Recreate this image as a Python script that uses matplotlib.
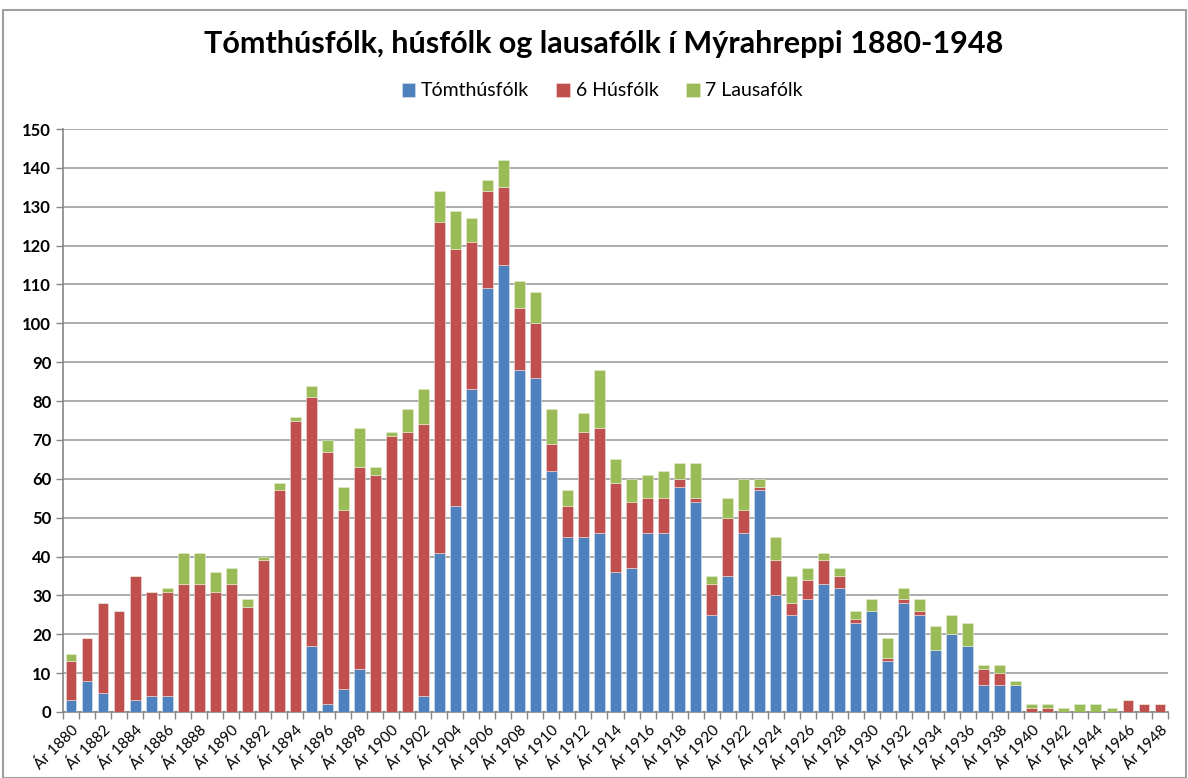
import matplotlib
matplotlib.use("Agg")
import matplotlib.pyplot as plt
from matplotlib.patches import Rectangle

years = list(range(1880, 1949))
tomthus = [3, 8, 5, 0, 3, 4, 4, 0, 0, 0, 0, 0, 0, 0, 0, 17, 2, 6, 11, 0,
           0, 0, 4, 41, 53, 83, 109, 115, 88, 86, 62, 45, 45, 46, 36, 37, 46, 46, 58, 54,
           25, 35, 46, 57, 30, 25, 29, 33, 32, 23, 26, 13, 28, 25, 16, 20, 17, 7, 7, 7,
           0, 0, 0, 0, 0, 0, 0, 0, 0]
husfolk = [10, 11, 23, 26, 32, 27, 27, 33, 33, 31, 33, 27, 39, 57, 75, 64, 65, 46, 52, 61,
           71, 72, 70, 85, 66, 38, 25, 20, 16, 14, 7, 8, 27, 27, 23, 17, 9, 9, 2, 1,
           8, 15, 6, 1, 9, 3, 5, 6, 3, 1, 0, 1, 1, 1, 0, 0, 0, 4, 3, 0,
           1, 1, 0, 0, 0, 0, 3, 2, 2]
lausafolk = [2, 0, 0, 0, 0, 0, 1, 8, 8, 5, 4, 2, 1, 2, 1, 3, 3, 6, 10, 2,
             1, 6, 9, 8, 10, 6, 3, 7, 7, 8, 9, 4, 5, 15, 6, 6, 6, 7, 4, 9,
             2, 5, 8, 2, 6, 7, 3, 2, 2, 2, 3, 5, 3, 3, 6, 5, 6, 1, 2, 1,
             1, 1, 1, 2, 2, 1, 0, 0, 0]
labels = ["Ár %d" % y for y in years]
series_names = ["Tómthúsfólk", "6 Húsfólk", "7 Lausafólk"]
colors = ["#4F81BD", "#C0504D", "#9BBB59"]

plt.rcParams['font.family'] = ['Lato', 'DejaVu Sans']

fig = plt.figure(figsize=(11.88, 7.78), dpi=100)
ax = fig.add_axes([63/1188, 1-712/778, (1168-63)/1188, (712-129)/778])

x = list(range(len(years)))
bottom2 = [a + b for a, b in zip(tomthus, husfolk)]
w = 0.68
ax.bar(x, tomthus, w, color=colors[0], edgecolor="#dbe4f0", linewidth=0.4, label=series_names[0], zorder=3)
ax.bar(x, husfolk, w, bottom=tomthus, color=colors[1], edgecolor="#f0dcdb", linewidth=0.4, label=series_names[1], zorder=3)
ax.bar(x, lausafolk, w, bottom=bottom2, color=colors[2], edgecolor="#e6eed5", linewidth=0.4, label=series_names[2], zorder=3)

ax.set_xlim(-0.5, len(years) - 0.5)
ax.set_ylim(0, 150)
ax.set_yticks(range(0, 151, 10))
ax.yaxis.grid(True, color="#a6a6a6", linewidth=1.3, zorder=0)
ax.set_axisbelow(True)
for lab in ax.get_yticklabels():
    lab.set_fontweight("bold")
ax.tick_params(axis="y", labelsize=12, length=5, color="#868686", width=1)

ax.set_xticks(x[::2])
ax.set_xticklabels(labels[::2], rotation=45, ha="right", rotation_mode="anchor", fontsize=11)
ax.set_xticks([i - 0.5 for i in range(len(years) + 1)], minor=True)
ax.tick_params(axis="x", which="major", length=0, pad=8)
ax.tick_params(axis="x", which="minor", length=5, color="#868686", width=1)

for s in ["top", "right"]:
    ax.spines[s].set_visible(False)
ax.spines["left"].set_color("#868686")
ax.spines["bottom"].set_color("#868686")
ax.spines["left"].set_linewidth(1.2)
ax.spines["bottom"].set_linewidth(1.2)

fig.text(0.508, 1-44/778, "Tómthúsfólk, húsfólk og lausafólk í Mýrahreppi 1880-1948",
         ha="center", va="center", fontsize=22, fontweight="bold")
fig.legend(loc="center", bbox_to_anchor=(0.507, 1-91/778), ncol=3, frameon=False,
           fontsize=14, handlelength=0.7, handleheight=0.7, handletextpad=0.3, columnspacing=1.4)

fig.patches.append(Rectangle((3/1188, 0), 1183/1188, 1-10/778, transform=fig.transFigure,
                             fill=False, edgecolor="#a0a0a0", linewidth=1.5))

fig.savefig("out.png", dpi=100, facecolor="white")
